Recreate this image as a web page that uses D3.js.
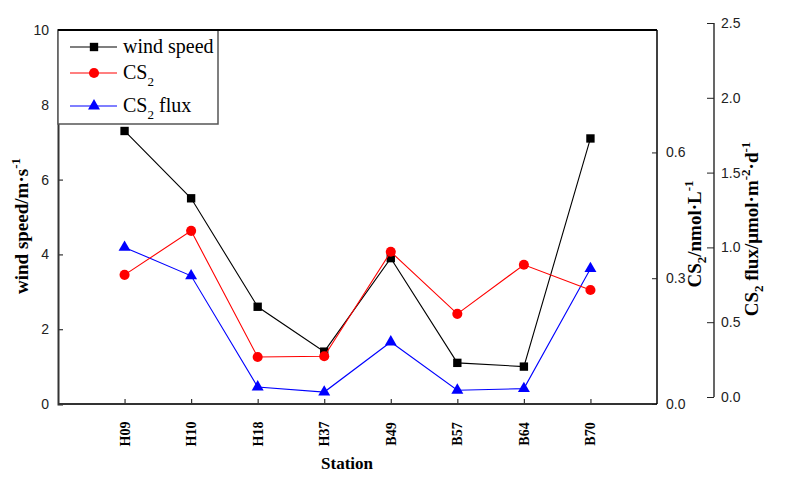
<!DOCTYPE html>
<html><head><meta charset="utf-8">
<script src="https://cdn.jsdelivr.net/npm/d3@7"></script>
<style>body{margin:0;background:#fff}</style>
</head><body>
<svg id="c" width="795" height="484"></svg>
<script>
const stations = ["H09","H10","H18","H37","B49","B57","B64","B70"];
const windSpeed = [7.3, 5.5, 2.6, 1.4, 3.9, 1.1, 1.0, 7.1];
const cs2 = [0.308, 0.413, 0.112, 0.114, 0.363, 0.215, 0.332, 0.272];
const cs2Flux = [1.00, 0.81, 0.067, 0.033, 0.368, 0.045, 0.056, 0.858];
const windTicks = [0, 2, 4, 6, 8, 10];
const cs2Ticks = [0.0, 0.3, 0.6];
const fluxTicks = [0.0, 0.5, 1.0, 1.5, 2.0, 2.5];

const svg = d3.select("#c");
const L = 58, R = 657, T = 30, B = 404;
const serif = "'Liberation Serif','Times New Roman',serif";
const sans = "'Liberation Sans',Arial,sans-serif";

const x = d3.scalePoint().domain(stations).range([L, R]).padding(1);
const yW = d3.scaleLinear().domain([0, 10]).range([B, T]);
const yC = d3.scaleLinear().domain([0, 0.892]).range([B, T]);
const fluxTop = 23, fluxBot = 397, fluxX = 714;
const yF = d3.scaleLinear().domain([0, 2.5]).range([fluxBot, fluxTop]);

// frame
svg.append("line").attr("x1", L).attr("x2", R).attr("y1", T).attr("y2", T).attr("stroke", "#000").attr("stroke-width", 2);

// left axis
const gL = svg.append("g").attr("transform", `translate(${L},0)`)
  .call(d3.axisLeft(yW).tickValues(windTicks).tickSize(-5).tickPadding(9).tickFormat(d3.format("d")));
gL.select(".domain").attr("stroke", "#333").attr("stroke-width", 2);
gL.selectAll(".tick line").attr("stroke", "#333").attr("stroke-width", 1.2);
gL.selectAll("text").attr("font-family", sans).attr("font-size", 14).attr("fill", "#222");

// bottom axis
const gB = svg.append("g").attr("transform", `translate(0,${B})`)
  .call(d3.axisBottom(x).tickSize(-5).tickFormat(""));
gB.select(".domain").attr("stroke", "#333").attr("stroke-width", 2).attr("d", `M${L},0H${R}`);
gB.selectAll(".tick line").attr("stroke", "#333").attr("stroke-width", 1.2);
svg.append("g").selectAll("text").data(stations).join("text")
  .attr("transform", d => `translate(${x(d)+5},434) rotate(-90)`)
  .attr("text-anchor", "middle").attr("font-family", serif).attr("font-weight", "bold")
  .attr("font-size", 14).text(d => d);

// right CS2 axis
const gR = svg.append("g").attr("transform", `translate(${R},0)`)
  .call(d3.axisRight(yC).tickValues(cs2Ticks).tickSize(-5).tickPadding(9).tickFormat(d3.format(".1f")));
gR.select(".domain").attr("stroke", "#000").attr("stroke-width", 1.5).attr("d", `M0,${T}V${B}`);
gR.selectAll(".tick line").attr("stroke", "#222");
gR.selectAll("text").attr("font-family", sans).attr("font-size", 14).attr("fill", "#222");

// flux axis
const gF = svg.append("g").attr("transform", `translate(${fluxX},0)`)
  .call(d3.axisRight(yF).tickValues(fluxTicks).tickSize(-7).tickPadding(7).tickFormat(d3.format(".1f")));
gF.select(".domain").attr("stroke", "#000").attr("stroke-width", 1.2).attr("d", `M0,${fluxTop}V${fluxBot}`);
gF.selectAll(".tick line").attr("stroke", "#222");
gF.selectAll("text").attr("font-family", sans).attr("font-size", 14).attr("fill", "#222");

// axis titles
const TS = 19, SS = 13;
const t1 = svg.append("text").attr("transform", "translate(28,226) rotate(-90)")
  .attr("text-anchor", "middle").attr("font-family", serif).attr("font-weight", "bold").attr("font-size", TS);
t1.append("tspan").text("wind speed/m·s");
t1.append("tspan").attr("dy", -8).attr("font-size", SS).text("-1");

const t2 = svg.append("text").attr("transform", "translate(701,234) rotate(-90)")
  .attr("text-anchor", "middle").attr("font-family", serif).attr("font-weight", "bold").attr("font-size", TS);
t2.append("tspan").text("CS");
t2.append("tspan").attr("dy", 5).attr("font-size", SS).text("2");
t2.append("tspan").attr("dy", -5).text("/nmol·L");
t2.append("tspan").attr("dy", -8).attr("font-size", SS).text("-1");

const t3 = svg.append("text").attr("transform", "translate(758,229) rotate(-90)")
  .attr("text-anchor", "middle").attr("font-family", serif).attr("font-weight", "bold").attr("font-size", TS);
t3.append("tspan").text("CS");
t3.append("tspan").attr("dy", 5).attr("font-size", SS).text("2");
t3.append("tspan").attr("dy", -5).text(" flux/μmol·m");
t3.append("tspan").attr("dy", -8).attr("font-size", SS).text("-2");
t3.append("tspan").attr("dy", 8).text("·d");
t3.append("tspan").attr("dy", -8).attr("font-size", SS).text("-1");

svg.append("text").attr("x", 347).attr("y", 469).attr("text-anchor", "middle")
  .attr("font-family", serif).attr("font-weight", "bold").attr("font-size", 17).text("Station");

// markers
const sq = d3.symbol().type(d3.symbolSquare).size(70);
const ci = d3.symbol().type(d3.symbolCircle).size(80);
const tr = d3.symbol().type(d3.symbolTriangle).size(62);

function series(vals, yS, color, sym) {
  const g = svg.append("g");
  g.append("path").datum(vals)
    .attr("d", d3.line().x((d, i) => x(stations[i])).y(d => yS(d)))
    .attr("fill", "none").attr("stroke", color).attr("stroke-width", 1.1);
  g.selectAll("path.m").data(vals).join("path").attr("class", "m")
    .attr("transform", (d, i) => `translate(${x(stations[i])},${yS(d)})`)
    .attr("d", sym).attr("fill", color);
}
series(windSpeed, yW, "#000", sq);
series(cs2Flux, yF, "#0000ff", tr);
series(cs2, yC, "#ff0000", ci);

// legend
const lg = svg.append("g");
lg.append("rect").attr("x", L).attr("y", T).attr("width", 160).attr("height", 94)
  .attr("fill", "#fff").attr("stroke", "#555").attr("stroke-width", 1.5);
svg.append("line").attr("x1", L).attr("x2", R).attr("y1", T).attr("y2", T).attr("stroke", "#000").attr("stroke-width", 2);
const items = [
  {label: ["wind speed"], color: "#000", sym: sq, y: 47},
  {label: ["CS", "2", ""], color: "#ff0000", sym: ci, y: 73},
  {label: ["CS", "2", " flux"], color: "#0000ff", sym: tr, y: 106}
];
items.forEach(it => {
  lg.append("line").attr("x1", 70).attr("x2", 117).attr("y1", it.y).attr("y2", it.y)
    .attr("stroke", it.color).attr("stroke-width", 1.1);
  lg.append("path").attr("transform", `translate(94,${it.y})`).attr("d", it.sym).attr("fill", it.color);
  const t = lg.append("text").attr("x", 123).attr("y", it.y + 6)
    .attr("font-family", serif).attr("font-size", 20);
  t.append("tspan").text(it.label[0]);
  if (it.label.length > 1) {
    t.append("tspan").attr("dy", 7).attr("font-size", 13).text(it.label[1]);
    t.append("tspan").attr("dy", -7).text(it.label[2]);
  }
});
</script>
</body></html>
